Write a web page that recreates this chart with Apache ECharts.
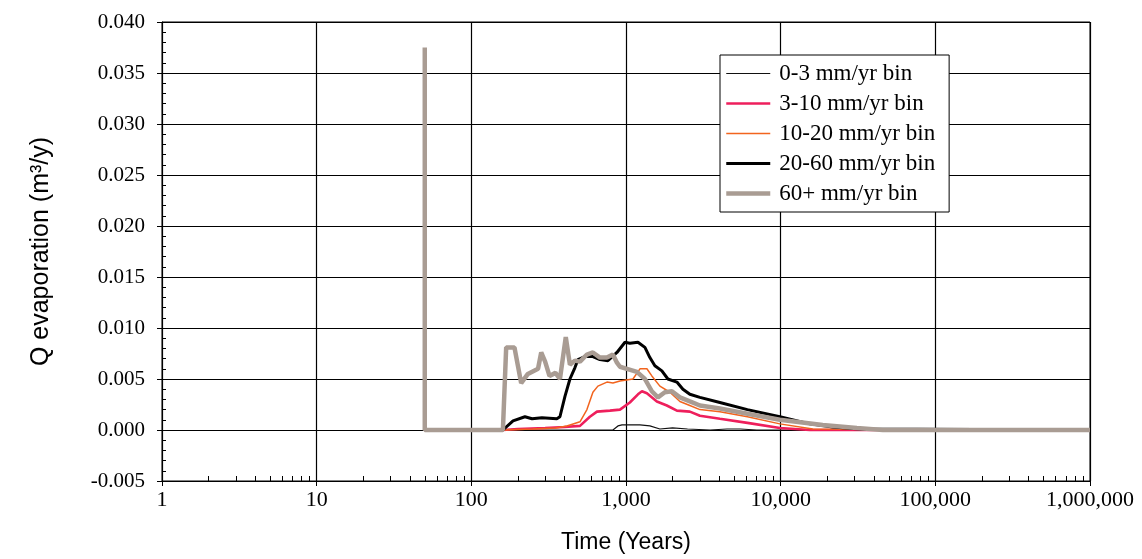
<!DOCTYPE html>
<html>
<head>
<meta charset="utf-8">
<script src="https://cdn.jsdelivr.net/npm/echarts@6/dist/echarts.min.js"></script>
<style>
  html, body { margin: 0; padding: 0; background: #fff; }
  #chart { width: 1142px; height: 559px; }
</style>
</head>
<body>
<div id="chart"></div>
<script>
// Evaporation flux per infiltration bin versus time (log time axis)
const seriesNames = ['0-3 mm/yr bin', '3-10 mm/yr bin', '10-20 mm/yr bin', '20-60 mm/yr bin', '60+ mm/yr bin'];

// 0-3 mm/yr bin
const bin0T = [50, 160, 823, 887, 942, 1231, 1427, 1656, 2000, 2500, 3500, 4500, 5500, 7000, 10000, 1000000];
const bin0Q = [0, 0, 0, 0.0004, 0.0005, 0.0005, 0.0004, 0.0001, 0.0002, 0.0001, 0, 0.0001, 0.0001, 0, 0, 0];

// 3-10 mm/yr bin
const bin1T = [50, 160, 200, 300, 400, 504, 584, 649, 787, 914, 1059, 1195, 1268, 1365, 1583, 1837, 2133, 2588, 3006, 4046, 6096, 9880, 15420, 1000000];
const bin1Q = [0, 0, 0.0001, 0.0002, 0.0003, 0.0004, 0.0013, 0.0018, 0.0019, 0.0020, 0.0027, 0.0035, 0.0038, 0.0036, 0.0028, 0.0024, 0.0019, 0.0018, 0.0014, 0.0011, 0.0007, 0.0002, 0, 0];

// 10-20 mm/yr bin
const bin2T = [50, 160, 250, 350, 415, 504, 559, 611, 658, 753, 823, 914, 1109, 1231, 1365, 1469, 1656, 1923, 2231, 2588, 3006, 4046, 6096, 9880, 16150, 1000000];
const bin2Q = [0, 0, 0.0001, 0.0002, 0.0004, 0.0008, 0.0020, 0.0037, 0.0043, 0.0047, 0.0046, 0.0048, 0.0050, 0.0060, 0.0060, 0.0053, 0.0043, 0.0037, 0.0028, 0.0024, 0.0020, 0.0018, 0.0013, 0.0006, 0.0001, 0];

// 20-60 mm/yr bin
const bin3T = [50, 160, 186, 222, 247, 286, 357, 374, 403, 434, 467, 489, 542, 611, 678, 764, 874, 985, 1059, 1195, 1325, 1427, 1537, 1706, 1866, 2133, 2333, 2588, 3006, 4046, 6096, 9880, 15420, 21740, 32500, 1000000];
const bin3Q = [0, 0, 0.0009, 0.0013, 0.0011, 0.0012, 0.0011, 0.0013, 0.0033, 0.0050, 0.0061, 0.0069, 0.0072, 0.0072, 0.0069, 0.0068, 0.0076, 0.0086, 0.0085, 0.0086, 0.0081, 0.0071, 0.0063, 0.0058, 0.0050, 0.0047, 0.0040, 0.0035, 0.0032, 0.0027, 0.0020, 0.0013, 0.0006, 0.0003, 0.0001, 0];

// 60+ mm/yr bin
const bin4T = [50, 50, 160, 168, 190, 210, 232, 270, 283, 300, 320, 350, 374, 408, 434, 467, 504, 559, 611, 678, 753, 823, 874, 914, 1014, 1177, 1325, 1469, 1608, 1783, 1981, 2231, 2588, 3006, 4046, 6096, 9880, 18700, 31070, 45800, 1000000];
const bin4Q = [0.0375, 0, 0, 0.0081, 0.0081, 0.0046, 0.0055, 0.0060, 0.0076, 0.0067, 0.0053, 0.0056, 0.0050, 0.0091, 0.0064, 0.0068, 0.0067, 0.0074, 0.0076, 0.0071, 0.0071, 0.0074, 0.0066, 0.0062, 0.0060, 0.0057, 0.0050, 0.0038, 0.0032, 0.0037, 0.0038, 0.0032, 0.0028, 0.0024, 0.0021, 0.0016, 0.0010, 0.0005, 0.0002, 0, 0];

const seriesT = [bin0T, bin1T, bin2T, bin3T, bin4T];
const seriesQ = [bin0Q, bin1Q, bin2Q, bin3Q, bin4Q];
const seriesColors = ['#111111', '#ee1f5c', '#f2641e', '#000000', '#a99c93'];
const seriesWidths = [1.2, 2.6, 1.5, 3, 4.5];

const serifFont = '"Liberation Serif", "Times New Roman", serif';
const sansFont = '"Liberation Sans", Arial, sans-serif';

function withCommas(v) {
  const s = String(Math.round(v));
  return s.replace(/\B(?=(\d{3})+(?!\d))/g, ',');
}

const chart = echarts.init(document.getElementById('chart'), null, { renderer: 'canvas' });

const series = seriesNames.map((name, k) => ({
  name: name,
  type: 'line',
  xAxisIndex: 0,
  yAxisIndex: 0,
  symbol: 'none',
  showSymbol: false,
  smooth: false,
  z: 3 + k,
  lineStyle: { color: seriesColors[k], width: seriesWidths[k] },
  itemStyle: { color: seriesColors[k] },
  data: seriesT[k].map((t, i) => [t, seriesQ[k][i]])
}));

// legend entries: plain line samples, each as thick as its series
const legendItems = seriesNames.map((name, k) => ({
  name: name,
  itemStyle: { opacity: 0 },
  lineStyle: { color: seriesColors[k], width: seriesWidths[k] }
}));

const option = {
  animation: false,
  backgroundColor: '#ffffff',
  grid: {
    left: 162, right: 52, top: 22, bottom: 77,
    show: true, borderColor: '#000', borderWidth: 1, backgroundColor: 'transparent'
  },
  legend: {
    orient: 'vertical',
    left: 720,
    top: 55,
    padding: [7, 14, 7, 4],
    backgroundColor: '#ffffff',
    borderColor: '#000',
    borderWidth: 1,
    borderRadius: 0,
    itemWidth: 44,
    itemHeight: 14,
    itemGap: 7,
    itemStyle: { opacity: 0 },
    lineStyle: { width: 'inherit' },
    textStyle: { fontFamily: serifFont, fontSize: 23, lineHeight: 23, color: '#000', padding: [0, 0, 0, 4] },
    data: legendItems
  },
  xAxis: [
    {
      type: 'log',
      logBase: 10,
      min: 1,
      max: 1000000,
      name: 'Time (Years)',
      nameLocation: 'middle',
      nameGap: 50,
      nameTextStyle: { fontFamily: sansFont, fontSize: 23, color: '#000' },
      axisLine: { show: true, onZero: false, lineStyle: { color: '#000', width: 1 } },
      axisTick: { show: true, inside: true, length: 6, lineStyle: { color: '#000' } },
      minorTick: { show: true, splitNumber: 9, length: 5, lineStyle: { color: '#000' } },
      axisLabel: {
        fontFamily: serifFont, fontSize: 22, color: '#000', margin: 8,
        formatter: v => withCommas(v)
      },
      splitLine: { show: true, lineStyle: { color: '#000', width: 1.2 } }
    },
    {
      type: 'log',
      logBase: 10,
      min: 1,
      max: 1000000,
      position: 'bottom',
      axisLine: { show: false, onZero: false },
      axisTick: { show: true, inside: false, length: 5, lineStyle: { color: '#000' } },
      axisLabel: { show: false },
      splitLine: { show: false }
    }
  ],
  yAxis: [
    {
      type: 'value',
      min: -0.005,
      max: 0.04,
      interval: 0.005,
      name: 'Q evaporation (m³/y)',
      nameLocation: 'middle',
      nameGap: 108,
      nameTextStyle: { fontFamily: sansFont, fontSize: 25, color: '#000' },
      axisLine: { show: true, onZero: false, lineStyle: { color: '#000', width: 1 } },
      axisTick: { show: true, inside: true, length: 6, lineStyle: { color: '#000' } },
      minorTick: { show: true, splitNumber: 5, length: 4, lineStyle: { color: '#000' } },
      axisLabel: {
        fontFamily: serifFont, fontSize: 21, color: '#000', margin: 17,
        formatter: v => v.toFixed(3)
      },
      splitLine: { show: true, lineStyle: { color: '#000', width: 1.2 } }
    },
    {
      type: 'value',
      min: -0.005,
      max: 0.04,
      interval: 0.005,
      position: 'left',
      axisLine: { show: false, onZero: false },
      axisTick: { show: true, inside: false, length: 5, lineStyle: { color: '#000' } },
      axisLabel: { show: false },
      splitLine: { show: false }
    }
  ],
  series: series
};

chart.setOption(option);
</script>
</body>
</html>
